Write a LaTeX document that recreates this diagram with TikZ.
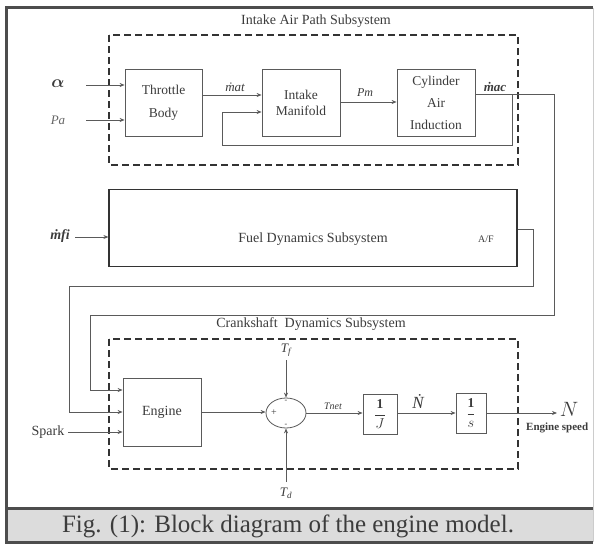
\documentclass[tikz,border=0pt]{standalone}
\usepackage{amsmath}
\usepackage{fontspec}
\setmainfont{Liberation Serif}
\usetikzlibrary{arrows.meta,shapes.geometric}
\definecolor{linecol}{HTML}{5A5A5A}
\definecolor{txtcol}{HTML}{3C3C3C}
\definecolor{dashcol}{HTML}{333333}
\definecolor{framecol}{HTML}{4D4D4D}
\definecolor{capbg}{HTML}{DCDCDC}
\tikzset{
  blk/.style={draw=linecol, line width=0.8pt, align=center, text=txtcol,
    font=\fontsize{13.5}{15}\selectfont, inner sep=0pt},
  lbl/.style={text=txtcol, inner sep=0pt, font=\fontsize{13}{15}\selectfont},
  conn/.style={draw=linecol, line width=0.8pt},
  arr/.style={conn, -{Stealth[length=5pt,width=4pt]}},
  subsys/.style={draw=dashcol, line width=1.2pt, dash pattern=on 7pt off 4pt},
  frameline/.style={draw=framecol, line width=3pt}
}
\begin{document}
\begin{tikzpicture}[x=1pt,y=-1pt]
\useasboundingbox (0,0) rectangle (595,546);
\fill[white] (0,0) rectangle (595,546);
% frame and caption band
\fill[capbg] (6.5,510) rectangle (593,542);
\draw[frameline] (6.5,7.5) -- (593,7.5);
\draw[frameline] (6.5,6) -- (6.5,543.5);
\draw[frameline] (6.5,508.5) -- (593,508.5);
\draw[frameline] (6.5,542.5) -- (593,542.5);
\draw[draw=gray!40, line width=1pt] (593,7.5) -- (593,542);
\node[text=txtcol, font=\fontsize{25}{28}\selectfont, inner sep=0pt] (cap) at (288,526)
  {Fig. (1): Block diagram of the engine model.};

% ---------- Intake Air Path Subsystem ----------
\draw[subsys] (109,35) rectangle (518,165);
\node[lbl, font=\fontsize{14}{16}\selectfont] (t1) at (316,21) {Intake Air Path Subsystem};
\node[blk, minimum width=77pt, minimum height=67pt] (tb) at (163.5,102.5)
  {Throttle\\[8pt]Body};
\node[blk, minimum width=78pt, minimum height=67pt] (im) at (301,102.5)
  {Intake\\[1pt]Manifold};
\node[blk, minimum width=78pt, minimum height=67pt] (cai) at (436,102.5)
  {Cylinder\\[7pt]Air\\[7pt]Induction};

\node[text=txtcol, inner sep=0pt, font=\fontsize{16}{18}\selectfont] (alpha) at (58,84) {$\boldsymbol{\alpha}$};
\node[lbl, text=gray!80!black, font=\fontsize{13}{15}\itshape] (pa) at (58,120) {Pa};
\coordinate (a0) at (86,85);
\coordinate (p0) at (86,120);
\draw[arr] (a0) -- (a0 -| tb.west);
\draw[arr] (p0) -- (p0 -| tb.west);

\coordinate (matY) at (0,95);
\draw[arr] (tb.east |- matY) -- (im.west |- matY);
\node[lbl, font=\fontsize{13}{15}\itshape] (mat) at (235,87) {\.{m}at};

\coordinate (pmY) at (0,102);
\draw[arr] (im.east |- pmY) -- (cai.west |- pmY);
\node[lbl, font=\fontsize{12}{14}\itshape] (pm) at (365,93) {Pm};

\node[lbl, font=\fontsize{13}{15}\bfseries\itshape] (mac) at (495,87) {\.{m}ac};
\coordinate (macY) at (0,94);
\coordinate (br) at (512,94);
\coordinate (mr) at (554,94);
\coordinate (md) at (554,315);
\coordinate (ml) at (90,315);
\coordinate (e1) at (90,390);
\draw[conn] (cai.east |- macY) -- (mr) -- (md) -- (ml) -- (e1);
% feedback
\coordinate (fb1) at (512,145);
\coordinate (fb2) at (222,145);
\coordinate (fb3) at (222,112);
\draw[arr] (br) -- (fb1) -- (fb2) -- (fb3) -- (im.west |- fb3);

% ---------- Fuel Dynamics Subsystem ----------
\node[draw=dashcol, line width=1.2pt, minimum width=408pt, minimum height=77pt, inner sep=0pt] (fds) at (313,228) {};
\node[lbl, font=\fontsize{14}{16}\selectfont] (fdsT) at (313,239) {Fuel Dynamics Subsystem};
\node[lbl, font=\fontsize{10}{12}\selectfont] (af) at (486,239) {A/F};
\node[lbl, font=\fontsize{14}{16}\bfseries\itshape] (mfi) at (60,236) {\.{m}fi};
\coordinate (f0) at (75,237);
\draw[arr] (f0) -- (f0 -| fds.west);
\coordinate (afY) at (0,229);
\coordinate (ar) at (533,229);
\coordinate (ad) at (533,286);
\coordinate (al) at (69,286);
\coordinate (e2) at (69,412);
\draw[conn] (fds.east |- afY) -- (ar) -- (ad) -- (al) -- (e2);

% ---------- Crankshaft Dynamics Subsystem ----------
\draw[subsys] (109,339) rectangle (518,469);
\node[lbl, font=\fontsize{14}{16}\selectfont] (t3) at (311,324) {Crankshaft\ \ Dynamics Subsystem};
\node[blk, minimum width=78pt, minimum height=68pt, font=\fontsize{14}{16}\selectfont] (eng) at (162,412) {Engine};
\draw[arr] (e1) -- (e1 -| eng.west);
\draw[arr] (e2) -- (e2 -| eng.west);
\node[lbl, font=\fontsize{14}{16}\selectfont] (spark) at (48,432) {Spark};
\coordinate (s0) at (68,432);
\draw[arr] (s0) -- (s0 -| eng.west);

\node[draw=linecol, line width=0.8pt, ellipse, minimum width=40pt, minimum height=30pt, inner sep=0pt] (sum) at (286,413) {};
\node[lbl, font=\fontsize{10}{12}\selectfont] (plus) at (274,413) {+};
\node[lbl, font=\fontsize{8}{10}\selectfont] (mn1) at (286,401) {-};
\node[lbl, font=\fontsize{8}{10}\selectfont] (mn2) at (286,425) {-};
\draw[arr] (eng.east) -- (eng.east -| sum.west);

\node[lbl, font=\fontsize{13}{15}\itshape] (tf) at (286,350) {T\textsubscript{\itshape f}};
\node[lbl, font=\fontsize{13}{15}\itshape] (td) at (286,493) {T\textsubscript{\itshape d}};
\coordinate (tf0) at (286,360);
\coordinate (td0) at (286,482);
\draw[arr] (tf0) -- (sum.north);
\draw[arr] (td0) -- (sum.south);

\node[blk, minimum width=34pt, minimum height=40pt] (invJ) at (380,414)
  {$\dfrac{\mathbf{1}}{J}$};
\node[blk, minimum width=30pt, minimum height=40pt] (invs) at (471,413)
  {$\dfrac{\mathbf{1}}{s}$};
\node[lbl, font=\fontsize{10}{12}\itshape] (tnet) at (333,406) {Tnet};
\draw[arr] (sum.east) -- (sum.east -| invJ.west);
\node[lbl, font=\fontsize{17}{19}\itshape] (nd) at (418,401) {\.{N}};
\draw[arr] (invJ.east |- invs) -- (invs.west);
\coordinate (nout) at (557,413);
\draw[arr] (invs.east) -- (nout);
\node[lbl, font=\fontsize{20}{22}\selectfont] (nlab) at (569,409) {$N$};
\node[lbl, anchor=west, font=\fontsize{11}{13}\bfseries] (es) at (526,428) {Engine speed};
\end{tikzpicture}
\end{document}
